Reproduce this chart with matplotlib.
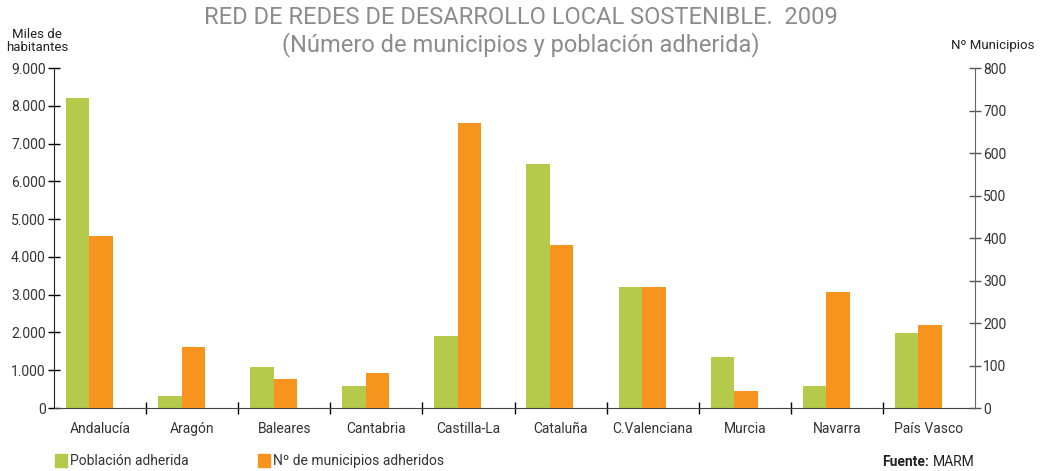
import matplotlib.pyplot as plt
import numpy as np
from matplotlib.ticker import FuncFormatter
from matplotlib.patches import Rectangle

plt.rcParams['font.family'] = ['Roboto', 'DejaVu Sans']

# Data
regions = ["Andalucía", "Aragón", "Baleares", "Cantabria", "Castilla-La",
           "Cataluña", "C.Valenciana", "Murcia", "Navarra", "País Vasco"]
poblacion = [8205, 318, 1085, 585, 1905, 6460, 3200, 1350, 585, 1990]
municipios = [405, 144, 68, 82, 671, 384, 285, 40, 273, 196]

green = "#b5c94a"
orange = "#f7941e"
text_col = "#333333"

fig = plt.figure(figsize=(10.42, 4.71), dpi=100)
ax = fig.add_axes([54 / 1042, 1 - 408 / 471, 921 / 1042, 340 / 471])
ax2 = ax.twinx()

x = np.arange(len(regions))
w = 0.255
off = -0.115
ax.bar(x + off - w / 2, poblacion, width=w, color=green, zorder=2)
ax2.bar(x + off + w / 2, municipios, width=w, color=orange, zorder=2)

ax.set_xlim(-0.5, len(regions) - 0.5)
ax.set_ylim(0, 9000)
ax2.set_ylim(0, 800)
ax.set_yticks(np.arange(0, 9001, 1000))
ax2.set_yticks(np.arange(0, 801, 100))
ax.yaxis.set_major_formatter(FuncFormatter(lambda v, p: f"{int(v):,}".replace(",", ".")))

# category boundary ticks on x axis, labels in the middle
ax.set_xticks(np.arange(0.5, len(regions) - 0.5, 1.0))
ax.set_xticklabels([])
ax.set_xticks(x, minor=True)
ax.set_xticklabels(regions, minor=True)
ax.tick_params(axis="x", which="minor", length=0, pad=10, labelsize=10, labelcolor=text_col)
ax.tick_params(axis="x", which="major", direction="inout", length=8, width=1)

ax.tick_params(axis="y", direction="inout", length=8, width=1, labelsize=10,
               labelcolor=text_col, pad=2)
ax2.tick_params(axis="y", direction="inout", length=8, width=1, labelsize=10,
                labelcolor=text_col, color="#555555", pad=2)

for a in (ax, ax2):
    a.spines["top"].set_visible(False)
ax.spines["right"].set_visible(False)
ax2.spines["left"].set_visible(False)
ax2.spines["bottom"].set_visible(False)
ax2.spines["right"].set_color("#666666")
ax.spines["left"].set_color("#222222")
ax.spines["bottom"].set_color("#444444")

# titles
fig.text(0.5, 1 - 18 / 471, "RED DE REDES DE DESARROLLO LOCAL SOSTENIBLE.  2009",
         ha="center", va="center", fontsize=17, color="#8c8c8c")
fig.text(0.5, 1 - 45 / 471, "(Número de municipios y población adherida)",
         ha="center", va="center", fontsize=17, color="#8c8c8c")
fig.text(37 / 1042, 1 - 41 / 471, "Miles de\nhabitantes", ha="center", va="center",
         fontsize=9.5, color="#222222", linespacing=1.0)
fig.text(993 / 1042, 1 - 45 / 471, "Nº Municipios", ha="center", va="center",
         fontsize=9.5, color="#222222")

# legend
fig.patches.append(Rectangle((55 / 1042, 1 - 467 / 471), 12 / 1042, 13 / 471,
                             transform=fig.transFigure, color=green))
fig.text(70 / 1042, 1 - 461 / 471, "Población adherida", va="center", fontsize=10, color=text_col)
fig.patches.append(Rectangle((258 / 1042, 1 - 467 / 471), 12 / 1042, 13 / 471,
                             transform=fig.transFigure, color=orange))
fig.text(273 / 1042, 1 - 461 / 471, "Nº de municipios adheridos", va="center", fontsize=10, color=text_col)
fig.text(975 / 1042, 1 - 462 / 471, "MARM", ha="right", va="center",
         fontsize=10, color="#222222")
fig.text(929 / 1042, 1 - 462 / 471, "Fuente:", ha="right", va="center",
         fontsize=10, color="#222222", fontweight="bold")

fig.savefig("out.png", dpi=100)
